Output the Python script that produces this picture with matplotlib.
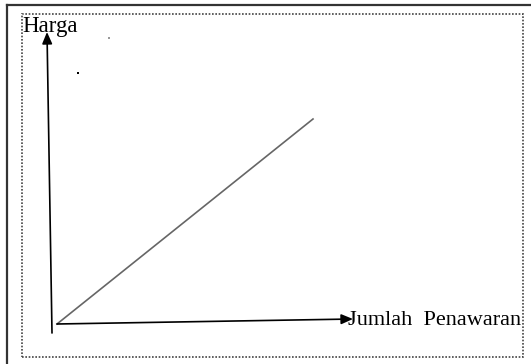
import numpy as np
import matplotlib
matplotlib.use('Agg')
import matplotlib.pyplot as plt
from matplotlib.patches import Rectangle

# kurva penawaran: titik awal dan akhir (jumlah, harga)
kurva_x = [0, 256]
kurva_y = [0, 205]

# sumbu harga (vertikal) dan sumbu jumlah (horizontal)
sumbu_harga_x = [-5, -10]
sumbu_harga_y = [-9, 292]
sumbu_jumlah_x = [0, 296]
sumbu_jumlah_y = [0, 5]

label_harga = "Harga"
label_jumlah = "Jumlah  Penawaran"

# titik kecil yang tersisa di gambar
titik_x = [21, 52]
titik_y = [251, 286]
titik_warna = ['black', '#999999']

fig = plt.figure(figsize=(5.31, 3.64), dpi=100)
ax = fig.add_axes([0, 0, 1, 1])
ax.set_xlim(-57, 474)
ax.set_ylim(-40, 324)
ax.axis('off')

# bingkai luar (garis tegas kiri & atas) dan bingkai dalam bertitik
fig.add_artist(plt.Line2D([7/531, 7/531], [0, 1 - 5/364], color='#333333', lw=1.6))
fig.add_artist(plt.Line2D([7/531, 1], [1 - 5/364, 1 - 5/364], color='#333333', lw=1.6))
fig.add_artist(Rectangle((22/531, 1 - 357/364), (523 - 22)/531, (357 - 14)/364,
                         fill=False, ls=(0, (1, 1)), lw=1.2, ec='#444444'))

ax.plot(kurva_x, kurva_y, c='#666666', lw=1.2)

ax.annotate("", xy=(sumbu_harga_x[1], sumbu_harga_y[1]), xytext=(sumbu_harga_x[0], sumbu_harga_y[0]),
            arrowprops=dict(arrowstyle='-|>,head_length=0.7,head_width=0.3', color='#666666',
                            lw=1.2, fc='black', ec='black', shrinkA=0, shrinkB=0))
ax.annotate("", xy=(sumbu_jumlah_x[1], sumbu_jumlah_y[1]), xytext=(sumbu_jumlah_x[0], sumbu_jumlah_y[0]),
            arrowprops=dict(arrowstyle='-|>,head_length=0.7,head_width=0.3', color='#666666',
                            lw=1.2, fc='black', ec='black', shrinkA=0, shrinkB=0))

ax.text(-35, 292, label_harga, family='Liberation Serif', fontsize=16.5, va='baseline', ha='left')
ax.text(291, -1, label_jumlah, family='Liberation Serif', fontsize=16, va='baseline', ha='left')

ax.scatter(titik_x, titik_y, s=2, c=titik_warna, marker='s', lw=0)

plt.savefig("out.png", dpi=100)
